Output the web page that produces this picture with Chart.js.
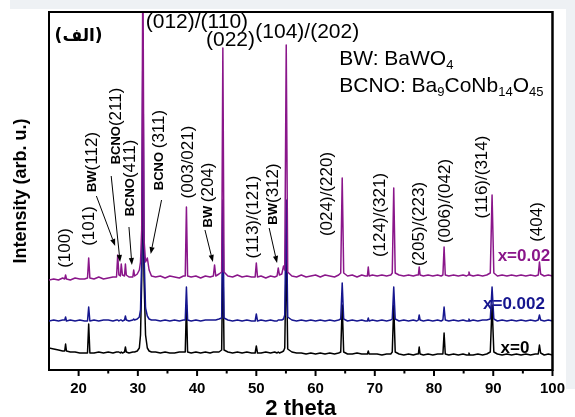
<!DOCTYPE html>
<html>
<head>
<meta charset="utf-8">
<script src="https://cdn.jsdelivr.net/npm/chart.js@4.4.1/dist/chart.umd.min.js"></script>
<style>
  html, body { margin: 0; padding: 0; background: #fff; }
  canvas { display: block; }
</style>
</head>
<body>
<canvas id="xrd" width="575" height="417"></canvas>
<script>
// === Data (2 theta, intensities) ===
const theta = [
  15.0, 15.8, 16.6, 17.3, 17.65, 17.8, 17.95, 18.6, 19.4, 20.2, 21.0,
  21.5, 21.7, 21.9, 22.6, 23.4, 24.2, 25.0, 25.8,
  26.4, 26.6, 26.8, 27.05, 27.2, 27.4, 27.75, 27.9, 28.05, 28.5,
  29.15, 29.3, 29.45, 29.9, 30.25, 30.45, 30.65, 30.85, 31.05, 31.3, 31.6, 31.9, 32.3,
  33.0, 33.8, 34.6, 35.4, 36.2, 37.0, 37.7,
  38.0, 38.2, 38.4, 39.0, 39.8, 40.6, 41.4, 42.2, 42.75, 42.95, 43.15, 43.7,
  44.15, 44.35, 44.55, 45.2, 46.0, 46.8, 47.6, 48.4, 49.2,
  49.8, 50.0, 50.2, 50.8, 51.6, 52.4, 53.1,
  53.5, 53.7, 53.9, 54.3, 54.6, 54.8, 55.05, 55.3, 56.0,
  56.8, 57.6, 58.4, 59.2, 60.0, 60.8, 61.6, 62.4, 63.2, 63.9,
  64.25, 64.5, 64.75, 65.4, 66.2, 67.0, 67.8, 68.4,
  68.75, 68.9, 69.05, 69.6, 70.4, 71.2, 72.0, 72.7,
  72.95, 73.2, 73.45, 74.1, 74.9, 75.7, 76.5, 77.1,
  77.35, 77.5, 77.65, 78.2, 79.0, 79.8, 80.6, 81.2,
  81.5, 81.7, 81.9, 82.5, 83.3, 84.1, 84.9, 85.5,
  85.75, 85.9, 86.05, 86.6, 87.4, 88.2, 88.9,
  89.5, 89.8, 90.1, 90.7, 91.5, 92.3, 93.1, 93.9, 94.7, 95.5, 96.3, 97.1,
  97.6, 97.8, 98.0, 98.6, 99.3, 100.0
];
// x = 0
const intX0 = [
  22, 21, 20, 19, 19, 26, 19, 18, 18, 17, 17,
  17, 46, 17, 17, 18, 17, 18, 17,
  18, 18, 18, 17, 18, 17, 18, 23, 18, 17,
  18, 18, 18, 19, 22, 35, 90, 200, 90, 35, 22, 19, 18,
  18, 17, 18, 17, 17, 18, 18,
  18, 65, 18, 17, 18, 17, 18, 17, 18, 18, 18, 18,
  20, 120, 20, 18, 17, 18, 17, 18, 17,
  17, 24, 17, 17, 18, 17, 18,
  17, 18, 17, 18, 19, 22, 120, 21, 18,
  17, 17, 16, 17, 16, 17, 16, 17, 16, 17,
  18, 65, 18, 16, 16, 17, 16, 16,
  16, 19, 16, 16, 16, 15, 16, 16,
  18, 65, 18, 16, 15, 16, 15, 16,
  16, 23, 16, 15, 16, 15, 16, 16,
  16, 37, 16, 15, 16, 15, 16, 15,
  15, 17, 15, 15, 16, 15, 16,
  18, 65, 18, 16, 15, 16, 15, 16, 15, 16, 15, 16,
  16, 25, 17, 15, 16, 15
];
// x = 0.002
const intX0002 = [
  49, 50, 49, 50, 50, 53, 49, 50, 49, 50, 49,
  49, 63, 49, 50, 49, 50, 50, 49,
  50, 50, 49, 50, 50, 49, 50, 54, 50, 49,
  50, 51, 50, 51, 53, 60, 110, 330, 115, 62, 54, 51, 50,
  50, 49, 50, 49, 50, 49, 50,
  50, 83, 50, 49, 50, 49, 50, 50, 50, 50, 50, 51,
  52, 170, 52, 50, 49, 50, 49, 50, 49,
  49, 56, 49, 50, 49, 50, 49,
  49, 50, 50, 50, 51, 55, 170, 53, 50,
  49, 50, 49, 50, 49, 50, 49, 50, 49, 50,
  51, 87, 51, 49, 50, 49, 50, 49,
  49, 52, 49, 50, 49, 50, 49, 50,
  51, 83, 51, 49, 50, 49, 50, 49,
  50, 55, 50, 49, 50, 49, 50, 49,
  50, 63, 50, 49, 50, 49, 50, 49,
  49, 51, 49, 50, 49, 50, 50,
  51, 83, 51, 49, 50, 49, 50, 49, 50, 49, 50, 49,
  50, 55, 50, 49, 50, 49
];
// x = 0.02
const intX002 = [
  90, 91, 90, 92, 91, 95, 91, 90, 92, 91, 91,
  92, 112, 92, 91, 93, 91, 92, 93,
  93, 115, 95, 94, 106, 95, 94, 106, 95, 93,
  93, 100, 94, 96, 100, 108, 140, 420, 130, 108, 112, 100, 94,
  93, 94, 92, 94, 93, 92, 94,
  94, 163, 94, 93, 94, 92, 94, 93, 94, 105, 94, 96,
  98, 322, 98, 94, 93, 95, 93, 94, 93,
  93, 107, 93, 94, 92, 94, 93,
  94, 102, 95, 96, 104, 100, 325, 98, 94,
  93, 95, 93, 94, 95, 93, 95, 94, 93, 95,
  97, 192, 97, 94, 95, 93, 95, 94,
  94, 103, 94, 95, 94, 95, 94, 95,
  97, 182, 97, 95, 94, 95, 94, 95,
  95, 103, 95, 94, 95, 94, 95, 94,
  95, 123, 95, 94, 95, 94, 95, 94,
  95, 98, 95, 94, 95, 94, 95,
  97, 175, 97, 94, 95, 94, 95, 94, 95, 94, 95, 94,
  95, 108, 96, 94, 95, 94
];

const xTicks = [20, 30, 40, 50, 60, 70, 80, 90, 100];
const xMinorTicks = [25, 35, 45, 55, 65, 75, 85, 95];

// === Popisky píků: [tučná předpona, hkl, 2theta, intenzita] ===
const rotLabels = [
  ["", "(100)", 17.83, 122],
  ["", "(101)", 21.83, 144],
  ["BW", "(112)", 22.33, 208],
  ["BCNO", "(211)", 26.33, 244],
  ["BCNO", "(411)", 28.67, 192],
  ["BCNO ", "(311)", 33.67, 220],
  ["", "(003/021)", 38.5, 208],
  ["BW ", "(204)", 41.83, 175],
  ["", "(113)/(121)", 49.5, 153],
  ["BW", "(312)", 52.83, 176],
  ["", "(024)/(220)", 62.0, 176],
  ["", "(124)/(321)", 71.0, 155],
  ["", "(205)/(223)", 77.5, 146],
  ["", "(006)/(042)", 81.83, 169],
  ["", "(116)/(314)", 88.17, 193],
  ["", "(404)", 97.5, 148]
];
// šipky: [od 2theta, od I, do 2theta, do I]
const arrows = [
  [23.0, 174, 26.17, 124],
  [25.5, 194, 27.0, 108],
  [28.5, 143, 29.0, 105],
  [34.0, 170, 32.17, 116],
  [41.33, 140, 42.67, 108],
  [52.17, 142, 53.5, 107]
];
// vodorovné popisky nahoře: [text, levý okraj 2theta, účaří I]
const topLabels = [
  ["(012)/(110)", 31.33, 342],
  ["(022)", 41.5, 324],
  ["(104)/(202)", 49.83, 332]
];
const seriesTags = [
  ["x=0.02", 95.17, 114, "#8a168a"],
  ["x=0.002", 93.5, 66, "#16168f"],
  ["x=0", 93.67, 22, "#000"]
];

const FAM = "'Liberation Sans', Arial, sans-serif";

function vText(c, parts, x, y) {
  let total = 0;
  parts.forEach(p => { c.font = p[1]; total += c.measureText(p[0]).width; });
  c.save();
  c.translate(x, y);
  c.rotate(-Math.PI / 2);
  c.textBaseline = "middle";
  c.textAlign = "left";
  let pos = -total / 2;
  parts.forEach(p => {
    c.font = p[1];
    c.fillText(p[0], pos, 0);
    pos += c.measureText(p[0]).width;
  });
  c.restore();
}

// runs: [text, font, posun dolů]
function hText(c, runs, x, y) {
  let pos = x;
  runs.forEach(r => {
    c.font = r[1];
    c.fillText(r[0], pos, y + (r[2] || 0));
    pos += c.measureText(r[0]).width;
  });
}

function arrow(c, x1, y1, x2, y2) {
  const ang = Math.atan2(y2 - y1, x2 - x1);
  const L = 7, W = 2.6;
  c.beginPath();
  c.moveTo(x1, y1);
  c.lineTo(x2 - L * Math.cos(ang), y2 - L * Math.sin(ang));
  c.stroke();
  c.beginPath();
  c.moveTo(x2, y2);
  c.lineTo(x2 - L * Math.cos(ang) + W * Math.sin(ang), y2 - L * Math.sin(ang) - W * Math.cos(ang));
  c.lineTo(x2 - L * Math.cos(ang) - W * Math.sin(ang), y2 - L * Math.sin(ang) + W * Math.cos(ang));
  c.closePath();
  c.fill();
}

const overlay = {
  id: "overlay",
  beforeDraw(chart) {
    const c = chart.ctx;
    c.save();
    c.fillStyle = "#fff";
    c.fillRect(0, 0, chart.width, chart.height);
    c.fillStyle = "#eef1f4";
    c.fillRect(10, 0, chart.width - 10, 9);
    c.fillRect(566, 9, 9, 380);
    c.restore();
  },
  afterDraw(chart) {
    const c = chart.ctx, xs = chart.scales.x, ys = chart.scales.y, a = chart.chartArea;
    const px = v => xs.getPixelForValue(v), py = v => ys.getPixelForValue(v);
    c.save();
    // rámeček nahoře a vpravo
    c.strokeStyle = "#000";
    c.lineWidth = 2;
    c.beginPath();
    c.moveTo(a.left - 1, a.top);
    c.lineTo(a.right, a.top);
    c.stroke();
    c.lineWidth = 2.5;
    c.beginPath();
    c.moveTo(a.right, a.top - 1);
    c.lineTo(a.right, a.bottom + 1);
    c.stroke();
    // dílky na ose x
    c.lineWidth = 2;
    xTicks.forEach(v => {
      c.beginPath(); c.moveTo(px(v), a.bottom); c.lineTo(px(v), a.bottom + 6); c.stroke();
    });
    xMinorTicks.forEach(v => {
      c.beginPath(); c.moveTo(px(v), a.bottom); c.lineTo(px(v), a.bottom + 3.5); c.stroke();
    });

    c.fillStyle = "#000";
    c.lineWidth = 1;
    rotLabels.forEach(l => {
      const parts = [];
      if (l[0]) parts.push([l[0], "bold 13px " + FAM]);
      parts.push([l[1], "17px " + FAM]);
      vText(c, parts, px(l[2]), py(l[3]));
    });
    arrows.forEach(r => arrow(c, px(r[0]), py(r[1]), px(r[2]), py(r[3])));

    c.textBaseline = "alphabetic";
    c.textAlign = "left";
    topLabels.forEach(l => hText(c, [[l[0], "21px " + FAM]], px(l[1]), py(l[2])));

    const big = "21px " + FAM, sub = "13px " + FAM;
    hText(c, [["BW: BaWO", big], ["4", sub, 4]], px(64.0), py(305));
    hText(c, [["BCNO: Ba", big], ["9", sub, 4], ["CoNb", big], ["14", sub, 4], ["O", big], ["45", sub, 4]], px(64.0), py(278));

    c.textAlign = "center";
    c.textBaseline = "middle";
    c.font = "bold 17px 'DejaVu Sans', sans-serif";
    c.fillText("(الف)", px(20.0), py(333));

    c.font = "bold 17px " + FAM;
    seriesTags.forEach(t => {
      c.fillStyle = t[3];
      c.fillText(t[0], px(t[1]), py(t[2]));
    });
    c.restore();
  }
};

const pts = arr => theta.map((t, i) => ({ x: t, y: arr[i] }));

new Chart(document.getElementById("xrd"), {
  type: "line",
  data: {
    datasets: [
      { label: "x=0.02", data: pts(intX002), borderColor: "#8a168a" },
      { label: "x=0.002", data: pts(intX0002), borderColor: "#16168f" },
      { label: "x=0", data: pts(intX0), borderColor: "#000" }
    ]
  },
  options: {
    responsive: false,
    animation: false,
    devicePixelRatio: 1,
    layout: { padding: { left: 0, right: 16, top: 12, bottom: 0 } },
    plugins: { legend: { display: false }, tooltip: { enabled: false } },
    elements: {
      point: { radius: 0 },
      line: { borderWidth: 1.5, tension: 0, borderJoinStyle: "round", fill: false }
    },
    scales: {
      x: {
        type: "linear",
        min: 15,
        max: 100,
        afterBuildTicks: ax => { ax.ticks = xTicks.map(v => ({ value: v })); },
        afterFit: ax => { ax.height = 47; },
        grid: { display: false, drawTicks: false },
        border: { display: true, color: "#000", width: 2 },
        ticks: {
          color: "#000",
          font: { family: FAM, size: 15, weight: "bold" },
          padding: 10,
          maxRotation: 0,
          autoSkip: false
        },
        title: {
          display: true,
          text: "2 theta",
          color: "#000",
          font: { family: FAM, size: 22, weight: "bold", lineHeight: 1 },
          padding: { top: 0, bottom: -3 }
        }
      },
      y: {
        min: 0,
        max: 358,
        afterFit: ax => { ax.width = 49; },
        ticks: { display: false },
        grid: { display: false, drawTicks: false },
        border: { display: true, color: "#000", width: 2 },
        title: {
          display: true,
          text: "Intensity (arb. u.)",
          color: "#000",
          font: { family: FAM, size: 18, weight: "bold", lineHeight: 1 },
          padding: { top: 12, bottom: 0 }
        }
      }
    }
  },
  plugins: [overlay]
});
</script>
</body>
</html>
